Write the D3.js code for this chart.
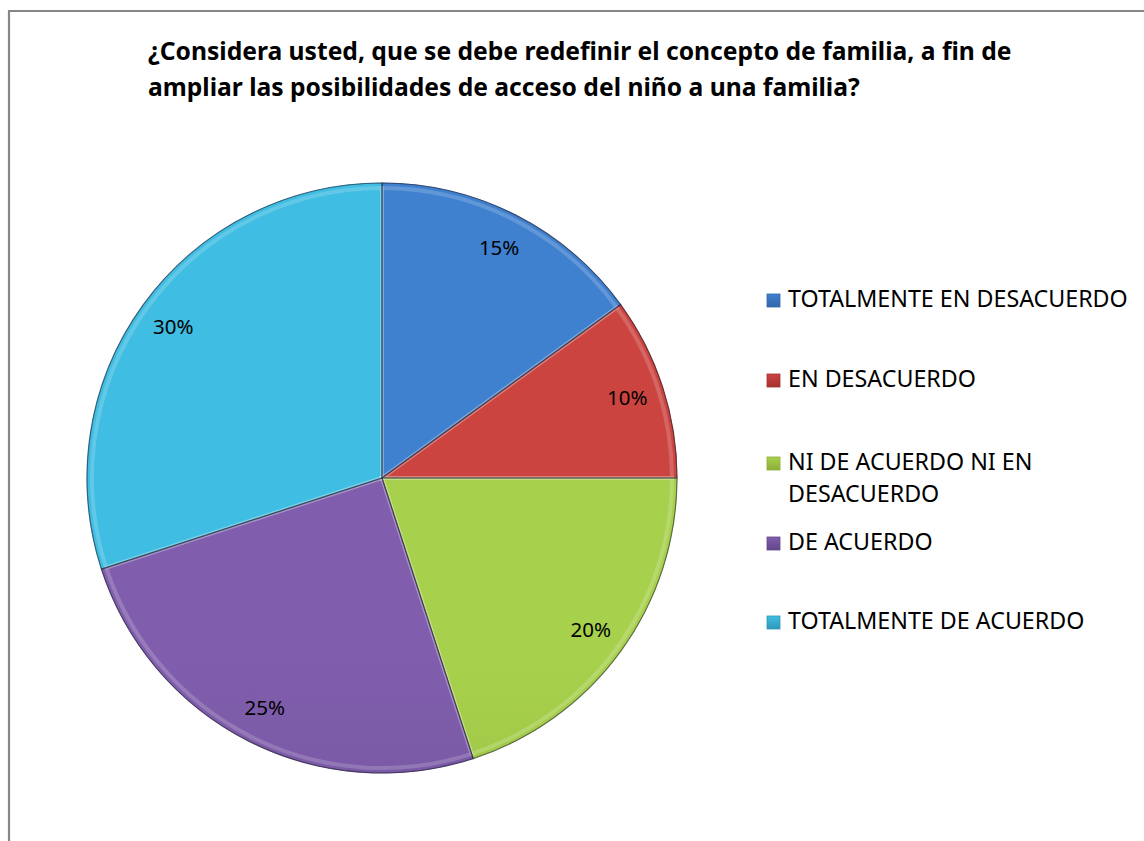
<!DOCTYPE html>
<html><head><meta charset="utf-8">
<script src="https://cdn.jsdelivr.net/npm/d3@7"></script>
<style>body{margin:0;background:#fff}svg{display:block}</style>
</head><body>
<svg id="c" width="1144" height="841"></svg>
<script>
const titleLines = ["¿Considera usted, que se debe redefinir el concepto de familia, a fin de",
                    "ampliar las posibilidades de acceso del niño a una familia?"];
const categories = ["TOTALMENTE EN DESACUERDO","EN DESACUERDO","NI DE ACUERDO NI EN DESACUERDO","DE ACUERDO","TOTALMENTE DE ACUERDO"];
const legendLines = [["TOTALMENTE EN DESACUERDO"],["EN DESACUERDO"],["NI DE ACUERDO NI EN","DESACUERDO"],["DE ACUERDO"],["TOTALMENTE DE ACUERDO"]];
const values = [15,10,20,25,30];
const colorsTop = ["#3f80cf","#cc4440","#a7d04c","#805ead","#3fbde2"];
const colorsBot = ["#3366aa","#a3332f","#8cae39","#634689","#3098b8"];

const svg = d3.select("#c");
const font = "'Noto Sans', 'Liberation Sans', sans-serif";

// frame
svg.append("path").attr("d","M9,841 V11 H1144").attr("fill","none").attr("stroke","#878787").attr("stroke-width",2.2);

// title
function fitText(sel, w){ const n=sel.node(); const l=n.getComputedTextLength(); const fs=parseFloat(sel.attr("font-size")); sel.attr("font-size", fs*w/l); }
const t1 = svg.append("text").attr("x",148).attr("y",60).attr("font-family",font).attr("font-weight","bold").attr("font-size",22).attr("fill","#000").text(titleLines[0]);
fitText(t1, 864);
const fs = +t1.attr("font-size");
svg.append("text").attr("x",148).attr("y",96).attr("font-family",font).attr("font-weight","bold").attr("font-size",fs).attr("fill","#000").text(titleLines[1]);

// pie
const cx=382, cy=478, R=295;
const defs = svg.append("defs");
values.forEach((v,i)=>{
  const g = defs.append("linearGradient").attr("id","g"+i).attr("gradientUnits","userSpaceOnUse")
    .attr("x1",cx).attr("y1",cy-R).attr("x2",cx).attr("y2",cy+R);
  g.append("stop").attr("offset","0%").attr("stop-color",colorsTop[i]);
  g.append("stop").attr("offset","100%").attr("stop-color",colorsBot[i]);
});
const pie = d3.pie().sort(null).value(d=>d);
const arcs = pie(values);
const arc = d3.arc().innerRadius(0).outerRadius(R);
const arcIn = d3.arc().innerRadius(0).outerRadius(R-5);
const gp = svg.append("g").attr("transform",`translate(${cx},${cy})`);
gp.selectAll("path.s").data(arcs).enter().append("path").attr("class","s")
  .attr("d",arc).attr("fill",(d,i)=>`url(#g${i})`)
  .attr("stroke",(d,i)=>colorsBot[i]).attr("stroke-width",1);
// bevel highlight
gp.selectAll("path.h").data(arcs).enter().append("path").attr("class","h")
  .attr("d",arcIn).attr("fill","none").attr("stroke","rgba(255,255,255,0.18)").attr("stroke-width",4);
// separators
gp.selectAll("path.b").data(arcs).enter().append("path").attr("class","b")
  .attr("d",arc).attr("fill","none").attr("stroke","rgba(40,40,60,0.5)").attr("stroke-width",1.2);

const labArc = d3.arc().innerRadius(258).outerRadius(258);
gp.selectAll("text").data(arcs).enter().append("text")
  .attr("transform",d=>`translate(${labArc.centroid(d)})`)
  .attr("text-anchor","middle").attr("dy","0.35em")
  .attr("font-family",font).attr("font-size",20.5).attr("fill","#000")
  .text(d=>d.data+"%");

// legend
const legY = [300,380,463,543,622];
const lg = svg.append("g");
legendLines.forEach((lines,i)=>{
  const y = legY[i];
  const gr = defs.append("linearGradient").attr("id","lg"+i).attr("x1",0).attr("y1",0).attr("x2",0).attr("y2",1);
  gr.append("stop").attr("offset","0%").attr("stop-color",colorsTop[i]);
  gr.append("stop").attr("offset","100%").attr("stop-color",colorsBot[i]);
  lg.append("rect").attr("x",767).attr("y",y-6).attr("width",13).attr("height",13).attr("fill",`url(#lg${i})`).attr("stroke",colorsBot[i]).attr("stroke-width",0.8);
  lines.forEach((ln,j)=>{
    lg.append("text").attr("x",788).attr("y",y+7+j*32).attr("font-family",font).attr("font-size",19).attr("fill","#000").text(ln);
  });
});
const first = lg.selectAll("text").filter((d,i)=>i===0).node();
const ratio = 340/first.getComputedTextLength();
lg.selectAll("text").attr("font-size",19*ratio);
</script>
</body></html>
